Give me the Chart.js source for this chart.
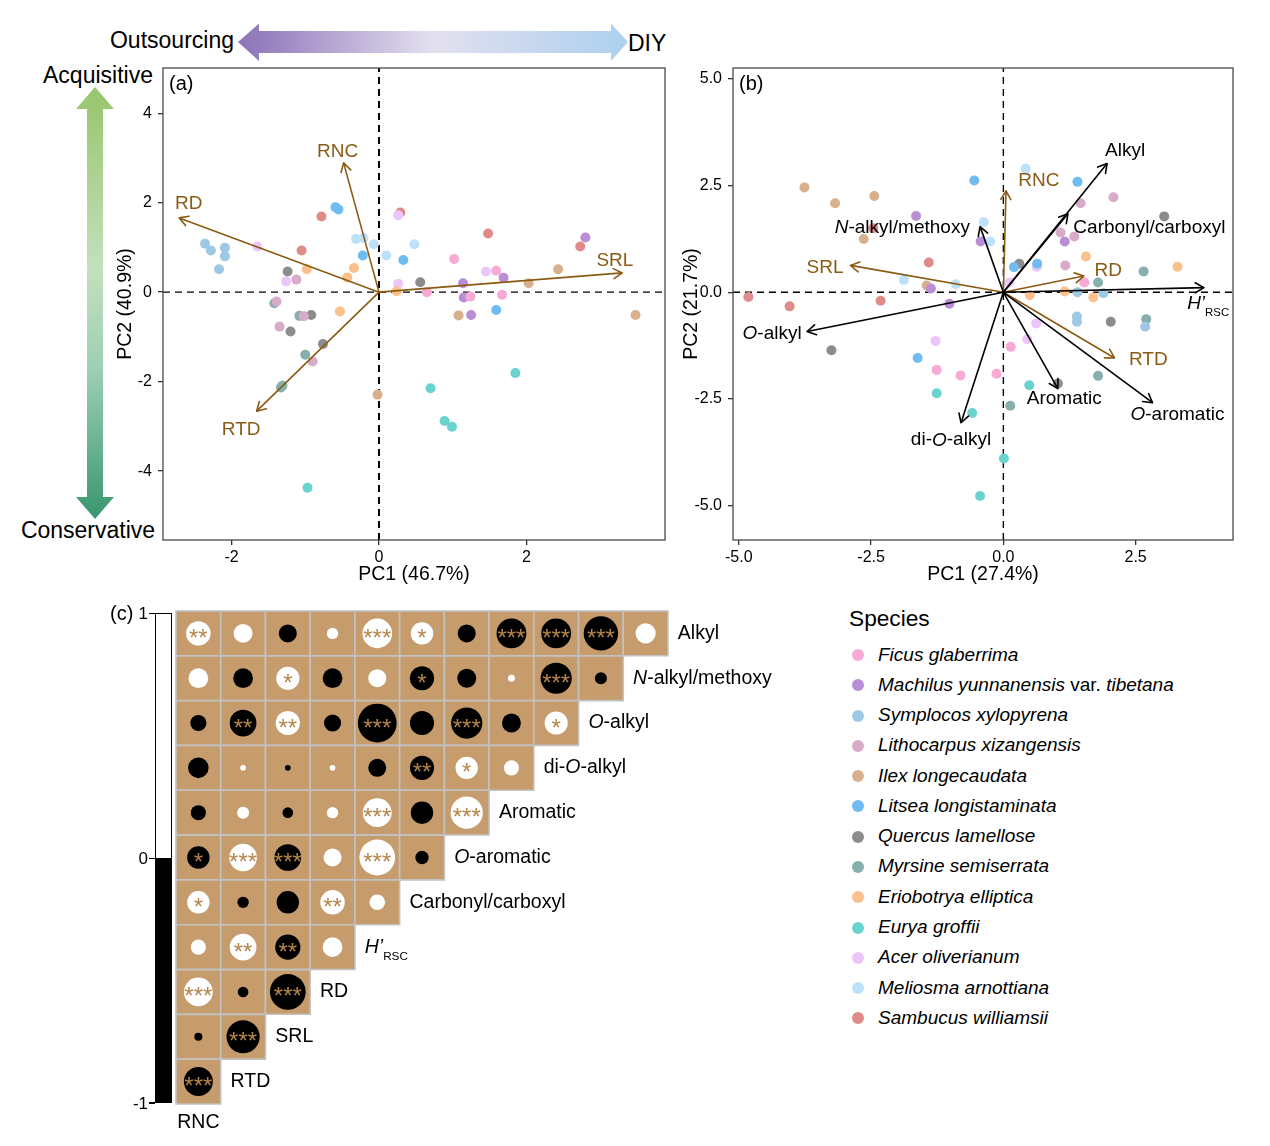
<!DOCTYPE html>
<html><head><meta charset="utf-8">
<script src="https://cdn.jsdelivr.net/npm/chart.js@4.4.1/dist/chart.umd.min.js"></script>
<style>
html,body{margin:0;padding:0;background:#fff;}
#wrap{position:relative;width:1270px;height:1146px;overflow:hidden;font-family:"Liberation Sans",Arial,sans-serif;color:#000;}
canvas{position:absolute;}
.abs{position:absolute;white-space:nowrap;line-height:1;}
</style></head>
<body><div id="wrap">
<svg width="1270" height="1146" style="position:absolute;left:0;top:0">
<defs>
<linearGradient id="gh" x1="238" x2="628" y1="0" y2="0" gradientUnits="userSpaceOnUse">
<stop offset="0" stop-color="#8e74b8"/>
<stop offset="0.1" stop-color="#9c86c2"/>
<stop offset="0.5" stop-color="#e3e0ef"/>
<stop offset="1" stop-color="#acd0ef"/>
</linearGradient>
<linearGradient id="gv" x1="0" x2="0" y1="87" y2="519" gradientUnits="userSpaceOnUse">
<stop offset="0" stop-color="#97c56c"/>
<stop offset="0.42" stop-color="#c3e0bc"/>
<stop offset="0.65" stop-color="#9dd0b4"/>
<stop offset="1" stop-color="#399670"/>
</linearGradient>
</defs>
<polygon fill="url(#gh)" points="238,42 259,23.5 259,31 611,31 611,23.5 628,42 611,61 611,53 259,53 259,61"/>
<polygon fill="url(#gv)" points="95,87 114,109 103,109 103,497 114,497 95,519 76,497 87,497 87,109 76,109"/>
<text x="234" y="48" text-anchor="end" font-size="23" font-family="Liberation Sans, Arial, sans-serif">Outsourcing</text>
<text x="628" y="51" text-anchor="start" font-size="23" font-family="Liberation Sans, Arial, sans-serif">DIY</text>
<text x="98" y="83" text-anchor="middle" font-size="23" font-family="Liberation Sans, Arial, sans-serif">Acquisitive</text>
<text x="88" y="538" text-anchor="middle" font-size="23" font-family="Liberation Sans, Arial, sans-serif">Conservative</text>
</svg>
<canvas id="ca" width="570" height="540" style="left:110px;top:60px;width:570px;height:540px"></canvas>
<canvas id="cb" width="574" height="540" style="left:676px;top:60px;width:574px;height:540px"></canvas>
<canvas id="cc" width="720" height="546" style="left:100px;top:600px;width:720px;height:546px"></canvas>
<div class="abs" style="left:110px;top:603px;font-size:20px">(c)</div>
<div class="abs" style="left:155px;top:613px;width:17px;height:490px;box-sizing:border-box;border:1.5px solid #000;background:linear-gradient(#fff 50%,#000 50%)"></div>
<div class="abs" style="left:149px;top:612.5px;width:6px;height:1.5px;background:#000"></div>
<div class="abs" style="left:149px;top:857.5px;width:6px;height:1.5px;background:#000"></div>
<div class="abs" style="left:149px;top:1102px;width:6px;height:1.5px;background:#000"></div>
<div class="abs" style="right:1122px;top:605px;font-size:17px">1</div>
<div class="abs" style="right:1122px;top:850px;font-size:17px">0</div>
<div class="abs" style="right:1122px;top:1095px;font-size:17px">-1</div>
<div id="legend"></div>
</div>
<script>
const FONT = '"Liberation Sans", Arial, sans-serif';
Chart.defaults.font.family = FONT;
Chart.defaults.color = '#000';

// ---------- species ----------
const species = ['Ficus glaberrima','Machilus yunnanensis var. tibetana','Symplocos xylopyrena','Lithocarpus xizangensis','Ilex longecaudata','Litsea longistaminata','Quercus lamellose','Myrsine semiserrata','Eriobotrya elliptica','Eurya groffii','Acer oliverianum','Meliosma arnottiana','Sambucus williamsii'];
const speciesColors = ['#f7aad6','#b98ed6','#9dc9e4','#d8abc9','#d9b08e','#6ebcf2','#8c8c8c','#86afad','#fcc08c','#6ad3cd','#ecc6f8','#bde0fb','#e08b89'];

// ---------- panel (a): PCA of root traits ----------
const pcaA_PC1 = [
 [1.02,1.59,0.65,1.24,1.67],
 [2.80,1.14,1.15,1.25,1.69],
 [-2.36,-2.28,-2.09,-2.09,-2.17],
 [-1.12,-1.39,-1.02,-1.35,-0.90],
 [2.43,2.03,1.08,3.48,-0.02],
 [-0.59,-0.55,-0.22,0.33,1.59],
 [-1.24,-0.92,-1.20,-0.76,0.56],
 [-1.42,-1.08,-1.00,-1.33,-1.31],
 [-0.98,-0.34,-0.43,-0.53,0.24],
 [1.85,0.70,0.89,0.99,-0.97],
 [-1.65,0.26,-1.26,0.26,1.45],
 [-0.31,-0.21,-0.07,0.10,0.48],
 [-0.78,-1.05,0.29,1.48,2.73]
];
const pcaA_PC2 = [
 [0.74,0.48,0.00,-0.10,-0.06],
 [1.22,0.20,-0.12,-0.51,0.32],
 [1.08,0.93,0.99,0.80,0.51],
 [0.28,-0.21,-0.54,-0.77,-1.55],
 [0.51,0.20,-0.52,-0.51,-2.29],
 [1.90,1.85,0.82,0.72,-0.40],
 [0.46,-0.51,-0.88,-1.16,0.22],
 [-0.25,-0.53,-1.40,-2.13,-2.09],
 [0.51,0.54,0.33,-0.43,0.02],
 [-1.81,-2.15,-2.88,-3.01,-4.37],
 [1.02,1.72,0.24,0.19,0.46],
 [1.19,1.21,1.07,0.82,1.07],
 [1.69,0.93,1.78,1.31,1.02]
];
const traitsA = ['RNC','RD','SRL','RTD'];
const loadA_PC1 = [-0.48,-2.71,3.30,-1.66];
const loadA_PC2 = [2.89,1.66,0.43,-2.66];
const labelA_x = [-0.56,-2.58,3.20,-1.87];
const labelA_y = [3.14,1.98,0.70,-3.08];

// ---------- panel (b): PCA of root traits + carbon chemistry ----------
const pcaB_PC1 = [
 [1.53,0.14,-1.26,-0.81,-0.13],
 [-1.65,-0.43,-1.37,-1.02,1.16],
 [1.40,1.39,1.39,1.89,2.68],
 [2.08,1.46,1.08,1.34,1.17],
 [-3.76,-3.18,-2.44,-2.64,-1.45],
 [-0.55,1.40,0.20,0.64,-1.62],
 [3.04,0.30,2.03,-3.25,1.03],
 [2.65,1.79,2.70,1.79,0.13],
 [1.56,3.29,0.50,1.16,1.70],
 [0.49,-0.59,-1.26,0.01,-0.44],
 [0.11,0.63,0.62,0.45,-1.28],
 [0.42,-0.37,-0.25,-1.88,-0.90],
 [-4.82,-4.04,-2.32,-1.41,-2.46]
];
const pcaB_PC2 = [
 [0.23,-1.28,-1.82,-1.95,-1.91],
 [1.79,1.19,0.09,-0.27,1.19],
 [0.00,-0.57,-0.69,-0.02,-0.81],
 [2.23,2.09,1.40,1.31,0.63],
 [2.46,2.09,2.26,1.25,0.16],
 [2.62,2.59,0.59,0.67,-1.54],
 [1.78,0.67,-0.69,-1.36,-2.14],
 [0.49,0.23,-0.63,-1.96,-2.66],
 [0.84,0.60,-0.07,0.02,-0.12],
 [-2.18,-2.83,-2.37,-3.90,-4.78],
 [0.23,0.60,-0.73,-1.10,-1.14],
 [2.90,1.65,1.19,0.29,0.19],
 [-0.11,-0.33,-0.20,0.70,1.50]
];
const vectorsB = ['Alkyl','Carbonyl/carboxyl','_N_-alkyl/methoxy','_H\u2019_~RSC~','_O_-alkyl','_O_-aromatic','Aromatic','di-_O_-alkyl','RNC','SRL','RD','RTD'];
const rootTraitB = [false,false,false,false,false,false,false,false,true,true,true,true];
const loadB_PC1 = [1.96,1.22,-0.44,3.79,-3.71,2.82,1.03,-0.80,0.05,-2.89,1.52,2.10];
const loadB_PC2 = [3.02,1.84,1.54,0.11,-0.92,-2.59,-2.26,-3.06,2.38,0.63,0.38,-1.54];
const labelB_x = [2.30,2.76,-1.91,3.87,-4.37,3.29,1.15,-0.99,0.67,-3.37,1.98,2.74];
const labelB_y = [3.33,1.51,1.51,-0.27,-0.98,-2.88,-2.50,-3.47,2.61,0.57,0.50,-1.59];

// ---------- panel (c): correlation matrix ----------
const corrRowNames = ['Alkyl','_N_-alkyl/methoxy','_O_-alkyl','di-_O_-alkyl','Aromatic','_O_-aromatic','Carbonyl/carboxyl','_H\u2019_~RSC~','RD','SRL','RTD'];
const corrColNames = ['RNC','RTD','SRL','RD','_H\u2019_~RSC~','Carbonyl/carboxyl','_O_-aromatic','Aromatic','di-_O_-alkyl','_O_-alkyl','_N_-alkyl/methoxy'];
const corrValues = [
 [0.37,0.22,-0.20,0.08,0.54,0.31,-0.20,-0.55,-0.55,-0.73,0.25],
 [0.24,-0.24,0.33,-0.24,0.20,-0.36,-0.22,0.03,-0.60,-0.09],
 [-0.16,-0.44,0.36,-0.18,-0.93,-0.36,-0.60,-0.22,0.33],
 [-0.26,0.02,-0.02,0.02,-0.20,-0.36,0.31,0.14],
 [-0.14,0.09,-0.07,0.08,0.51,-0.31,0.64],
 [-0.31,0.47,-0.44,0.20,0.79,-0.11],
 [0.31,-0.08,-0.31,0.37,0.15],
 [0.14,0.44,-0.39,0.24],
 [0.51,-0.07,-0.79],
 [-0.04,-0.68],
 [-0.52]
];
const corrSignif = [
 ['**','','','','***','*','','***','***','***',''],
 ['','','*','','','*','','','***',''],
 ['','**','**','','***','','***','','*'],
 ['','','','','','**','*',''],
 ['','','','','***','','***'],
 ['*','***','***','','***',''],
 ['*','','','**',''],
 ['','**','**',''],
 ['***','','***'],
 ['','***'],
 ['***']
];

// ---------- helpers ----------
const BROWN = '#8b5a14';
function parseMarkup(s){
  const out=[]; const re=/_([^_]+)_|~([^~]+)~|([^_~]+)/g; let m;
  while((m=re.exec(s))){ if(m[1]) out.push({t:m[1],i:true}); else if(m[2]) out.push({t:m[2],sub:true}); else out.push({t:m[3]}); }
  return out;
}
function drawRich(ctx, s, x, y, size, color, align){
  const segs=parseMarkup(s); let total=0;
  segs.forEach(g=>{ g.size=g.sub?size*0.6:size; g.font=(g.i?'italic ':'')+g.size+'px '+FONT; ctx.font=g.font; g.w=ctx.measureText(g.t).width; total+=g.w; });
  let cx = align==='left'?x:(align==='right'?x-total:x-total/2);
  ctx.save(); ctx.fillStyle=color; ctx.textAlign='left'; ctx.textBaseline='middle';
  segs.forEach(g=>{ ctx.font=g.font; ctx.fillText(g.t,cx,y+(g.sub?size*0.5:0)); cx+=g.w; });
  ctx.restore();
}

const biplotDeco = {
  id:'biplotDeco',
  afterDatasetsDraw(chart){
    const ctx=chart.ctx, ca=chart.chartArea, xs=chart.scales.x, ys=chart.scales.y;
    chart.data.datasets.forEach((ds,i)=>{
      if(!ds.isArrow) return;
      const meta=chart.getDatasetMeta(i); const p0=meta.data[0], p1=meta.data[1];
      const ang=Math.atan2(p1.y-p0.y,p1.x-p0.x), L=10, A=Math.PI/6;
      ctx.save(); ctx.strokeStyle=ds.borderColor; ctx.lineWidth=1.6; ctx.lineCap='round'; ctx.lineJoin='round';
      ctx.beginPath();
      ctx.moveTo(p1.x-L*Math.cos(ang-A),p1.y-L*Math.sin(ang-A));
      ctx.lineTo(p1.x,p1.y);
      ctx.lineTo(p1.x-L*Math.cos(ang+A),p1.y-L*Math.sin(ang+A));
      ctx.stroke(); ctx.restore();
      drawRich(ctx, ds.arrowLabel, xs.getPixelForValue(ds.labelX), ys.getPixelForValue(ds.labelY), 19, ds.borderColor, 'center');
    });
    ctx.save(); ctx.strokeStyle='#4a4a4a'; ctx.lineWidth=1.3;
    ctx.strokeRect(ca.left,ca.top,ca.right-ca.left,ca.bottom-ca.top);
    ctx.fillStyle='#000'; ctx.font='20px '+FONT; ctx.textBaseline='middle'; ctx.textAlign='left';
    ctx.fillText(chart.options.plugins.biplotDeco.tag, ca.left+6, ca.top+16);
    ctx.restore();
  }
};

function biplot(id, c){
  const datasets=[];
  species.forEach((sp,k)=>{
    datasets.push({type:'scatter',label:sp,data:c.pc1[k].map((v,n)=>({x:v,y:c.pc2[k][n]})),
      backgroundColor:speciesColors[k],borderWidth:0,pointRadius:5,pointHoverRadius:5,order:2});
  });
  datasets.push({type:'line',data:[{x:0,y:c.ymin},{x:0,y:c.ymax}],borderColor:'#000',borderWidth:c.vw,borderDash:[7,5],pointRadius:0,order:3,clip:false});
  datasets.push({type:'line',data:[{x:c.xmin,y:0},{x:c.xmax,y:0}],borderColor:'#000',borderWidth:1.3,borderDash:[7,5],pointRadius:0,order:3,clip:false});
  c.names.forEach((nm,k)=>{
    datasets.push({type:'line',data:[{x:0,y:0},{x:c.l1[k],y:c.l2[k]}],borderColor:c.colors[k],borderWidth:1.6,
      pointRadius:0,order:1,isArrow:true,arrowLabel:nm,labelX:c.lx[k],labelY:c.ly[k],clip:false});
  });
  const tickCb = c.fmt ? (v=>Number(v).toFixed(1)) : (v=>String(v));
  return new Chart(document.getElementById(id),{
    type:'scatter',
    data:{datasets},
    plugins:[biplotDeco],
    options:{
      responsive:false, animation:false, events:[],
      layout:{padding:{left:0,right:c.padRight,top:8,bottom:10}},
      plugins:{legend:{display:false},tooltip:{enabled:false},biplotDeco:{tag:c.tag}},
      scales:{
        x:{type:'linear',min:c.xmin,max:c.xmax,
          ticks:{stepSize:c.xstep,includeBounds:false,font:{size:16},color:'#000',padding:3,callback:tickCb,maxRotation:0},
          grid:{drawOnChartArea:false,tickLength:5,color:'#333',lineWidth:1.3},
          border:{display:false},
          title:{display:true,text:c.xtitle,font:{size:19.5},color:'#000'},
          afterFit:s=>{s.height=50; s.paddingLeft=0; s.paddingRight=0; s.paddingTop=0; s.paddingBottom=0;}},
        y:{type:'linear',min:c.ymin,max:c.ymax,
          ticks:{stepSize:c.ystep,includeBounds:false,font:{size:16},color:'#000',padding:6,callback:tickCb},
          grid:{drawOnChartArea:false,tickLength:5,color:'#333',lineWidth:1.3},
          border:{display:false},
          title:{display:true,text:c.ytitle,font:{size:19.5},color:'#000'},
          afterFit:s=>{s.width=c.yw; s.paddingTop=0; s.paddingBottom=0; s.paddingLeft=0; s.paddingRight=0;}}
      }
    }
  });
}

biplot('ca',{pc1:pcaA_PC1,pc2:pcaA_PC2,names:traitsA,l1:loadA_PC1,l2:loadA_PC2,lx:labelA_x,ly:labelA_y,
  colors:traitsA.map(()=>BROWN),xmin:-2.93,xmax:3.88,ymin:-5.54,ymax:5.01,xstep:2,ystep:2,
  xtitle:'PC1 (46.7%)',ytitle:'PC2 (40.9%)',tag:'(a)',yw:53,padRight:15,vw:2,fmt:false});
biplot('cb',{pc1:pcaB_PC1,pc2:pcaB_PC2,names:vectorsB,l1:loadB_PC1,l2:loadB_PC2,lx:labelB_x,ly:labelB_y,
  colors:rootTraitB.map(r=>r?BROWN:'#000'),xmin:-5.11,xmax:4.34,ymin:-5.81,ymax:5.26,xstep:2.5,ystep:2.5,
  xtitle:'PC1 (27.4%)',ytitle:'PC2 (21.7%)',tag:'(b)',yw:57,padRight:17,vw:1.4,fmt:true});

// ---------- panel (c) ----------
const cellData=[], circData=[];
corrValues.forEach((row,i)=>row.forEach((v,j)=>{
  cellData.push({x:j+0.5,y:i+0.5});
  circData.push({x:j+0.5,y:i+0.5,v:v,s:corrSignif[i][j]});
}));
const cellPx = c => { const xs=c.chart.scales.x; return xs ? xs.getPixelForValue(1)-xs.getPixelForValue(0) : 0; };
const corrDeco = {
  id:'corrDeco',
  afterDatasetsDraw(chart){
    const ctx=chart.ctx, xs=chart.scales.x, ys=chart.scales.y;
    const meta=chart.getDatasetMeta(1);
    ctx.save(); ctx.fillStyle='#b5854a'; ctx.font='24px '+FONT; ctx.textAlign='center'; ctx.textBaseline='alphabetic';
    const mt=ctx.measureText('*'); const off=(mt.actualBoundingBoxAscent-mt.actualBoundingBoxDescent)/2;
    meta.data.forEach((el,k)=>{ const s=circData[k].s; if(s) ctx.fillText(s, el.x, el.y+off); });
    ctx.restore();
    corrRowNames.forEach((nm,i)=>{
      drawRich(ctx, nm, xs.getPixelForValue(corrValues[i].length+0.22), ys.getPixelForValue(i+0.5), 19.5, '#000', 'left');
    });
    drawRich(ctx, corrColNames[0], xs.getPixelForValue(0.5), ys.getPixelForValue(11.42), 19.5, '#000', 'center');
  }
};
new Chart(document.getElementById('cc'),{
  type:'scatter',
  data:{datasets:[
    {data:cellData,pointStyle:'rect',pointRadius:c=>cellPx(c)/Math.SQRT2,pointHoverRadius:c=>cellPx(c)/Math.SQRT2,
     backgroundColor:'#c69c6c',borderColor:'#c2c2c2',borderWidth:1.6,order:2,clip:false},
    {data:circData,pointStyle:'circle',
     pointRadius:c=>(c.raw?0.9*Math.sqrt(Math.abs(c.raw.v))/2*cellPx(c):0),
     pointHoverRadius:c=>(c.raw?0.9*Math.sqrt(Math.abs(c.raw.v))/2*cellPx(c):0),
     backgroundColor:c=>(c.raw&&c.raw.v<0?'#000':'#fff'),borderWidth:0,order:1,clip:false}
  ]},
  plugins:[corrDeco],
  options:{
    responsive:false, animation:false, events:[],
    layout:{padding:{left:76,right:152,top:11,bottom:42}},
    plugins:{legend:{display:false},tooltip:{enabled:false}},
    scales:{x:{type:'linear',min:0,max:11,display:false},y:{type:'linear',min:0,max:11,reverse:true,display:false}}
  }
});

// ---------- legend ----------
const lg=document.getElementById('legend');
let html='<div class="abs" style="left:849px;top:607px;font-size:22.7px">Species</div>';
species.forEach((sp,k)=>{
  const y=655+k*30.28;
  const name=sp.replace(' var. ','</i> var. <i>');
  html+='<div class="abs" style="left:851.5px;top:'+(y-6)+'px;width:12px;height:12px;border-radius:50%;background:'+speciesColors[k]+'"></div>';
  html+='<div class="abs" style="left:878px;top:'+(y-10.5)+'px;font-size:19px"><i>'+name+'</i></div>';
});
lg.innerHTML=html;
</script>
</body></html>
